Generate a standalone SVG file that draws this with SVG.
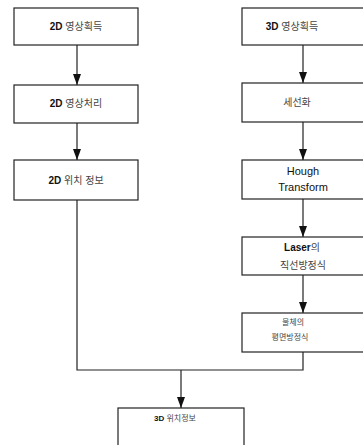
<svg xmlns="http://www.w3.org/2000/svg" width="363" height="445" viewBox="0 0 363 445">
<style>
.box{fill:#fff;stroke:#222;stroke-width:1.2}
.t{font-family:"Liberation Sans","Noto Sans CJK KR",sans-serif;font-size:10px;fill:#111;text-anchor:middle}
.b{font-weight:bold}
.k{fill:#444}
.s{font-size:8px}
.h{font-size:11px}
.c{fill:none;stroke:#222;stroke-width:1.2}
</style>
<defs>
<marker id="ad" markerWidth="8" markerHeight="11" refX="4" refY="11" markerUnits="userSpaceOnUse" viewBox="0 0 8 11">
<path d="M0,0 L8,0 L4,11 Z" fill="#111"/>
</marker>
</defs>
<rect width="363" height="445" fill="#fff"/>
<g id="connectors">
<line class="c" x1="77" y1="45" x2="77" y2="85" marker-end="url(#ad)"/>
<line class="c" x1="77" y1="123" x2="77" y2="160" marker-end="url(#ad)"/>
<line class="c" x1="303" y1="45" x2="303" y2="83" marker-end="url(#ad)"/>
<line class="c" x1="303" y1="122" x2="303" y2="160" marker-end="url(#ad)"/>
<line class="c" x1="303" y1="199" x2="303" y2="237" marker-end="url(#ad)"/>
<line class="c" x1="303" y1="275" x2="303" y2="313" marker-end="url(#ad)"/>
<polyline class="c" points="77,200 77,370 303,370 303,352"/>
<line class="c" x1="181" y1="370" x2="181" y2="408" marker-end="url(#ad)"/>
</g>
<g id="n1"><rect class="box" x="14" y="8" width="124" height="37"/><text class="t" x="76" y="30"><tspan class="b">2D</tspan><tspan class="k"> 영상획득</tspan></text></g>
<g id="n2"><rect class="box" x="14" y="85" width="124" height="38"/><text class="t" x="76" y="107"><tspan class="b">2D</tspan><tspan class="k"> 영상처리</tspan></text></g>
<g id="n3"><rect class="box" x="14" y="160" width="124" height="40"/><text class="t" x="76" y="184"><tspan class="b">2D</tspan><tspan class="k"> 위치 정보</tspan></text></g>
<g id="n4"><rect class="box" x="242" y="8" width="124" height="37"/><text class="t" x="292" y="30"><tspan class="b">3D</tspan><tspan class="k"> 영상획득</tspan></text></g>
<g id="n5"><rect class="box" x="242" y="83" width="124" height="39"/><text class="t k" x="297" y="106">세선화</text></g>
<g id="n6"><rect class="box" x="242" y="160" width="124" height="39"/><text class="t h" x="303" y="175">Hough</text><text class="t h" x="303" y="191">Transform</text></g>
<g id="n7"><rect class="box" x="242" y="237" width="124" height="38"/><text class="t" x="302" y="251"><tspan class="b">Laser</tspan><tspan class="k">의</tspan></text><text class="t k" x="303" y="269">직선방정식</text></g>
<g id="n8"><rect class="box" x="242" y="313" width="124" height="39"/><text class="t k s" x="293" y="325">물체의</text><text class="t k s" x="290" y="340">평면방정식</text></g>
<g id="n9"><rect class="box" x="118" y="408" width="126" height="45"/><text class="t s" x="175" y="421"><tspan class="b">3D</tspan><tspan class="k"> 위치정보</tspan></text></g>
</svg>
